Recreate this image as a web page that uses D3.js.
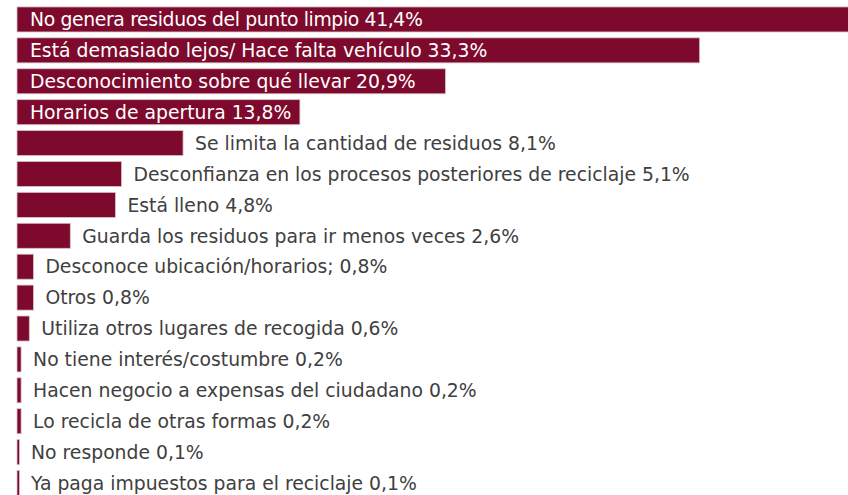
<!DOCTYPE html>
<html>
<head>
<meta charset="utf-8">
<script src="https://cdn.jsdelivr.net/npm/d3@7"></script>
<style>
  html, body { margin: 0; padding: 0; background: #ffffff; }
  svg { display: block; }
</style>
</head>
<body>
<svg id="chart" width="848" height="495"></svg>
<script>
const categories = [
  "No genera residuos del punto limpio",
  "Está demasiado lejos/ Hace falta vehículo",
  "Desconocimiento sobre qué llevar",
  "Horarios de apertura",
  "Se limita la cantidad de residuos",
  "Desconfianza en los procesos posteriores de reciclaje",
  "Está lleno",
  "Guarda los residuos para ir menos veces",
  "Desconoce ubicación/horarios;",
  "Otros",
  "Utiliza otros lugares de recogida",
  "No tiene interés/costumbre",
  "Hacen negocio a expensas del ciudadano",
  "Lo recicla de otras formas",
  "No responde",
  "Ya paga impuestos para el reciclaje"
];
const values = [41.4, 33.3, 20.9, 13.8, 8.1, 5.1, 4.8, 2.6, 0.8, 0.8, 0.6, 0.2, 0.2, 0.2, 0.1, 0.1];
const insideThreshold = 10;

const W = 848, H = 495;
const svg = d3.select("#chart");

const x = d3.scaleLinear().domain([0, 40]).range([17, 837]);
const y = d3.scaleBand()
  .domain(categories)
  .range([4, 498.5])
  .paddingInner(0.19)
  .paddingOuter(0.095);

const data = categories.map((c, i) => ({ cat: c, val: values[i] }));
const fmt = v => d3.format(".1f")(v).replace(".", ",") + "%";

svg.append("defs").append("clipPath").attr("id", "clip")
  .append("rect").attr("x", 0).attr("y", 0).attr("width", W).attr("height", H);

const g = svg.append("g").attr("clip-path", "url(#clip)");

g.selectAll("rect.bar").data(data).join("rect")
  .attr("class", "bar")
  .attr("x", x(0))
  .attr("y", d => y(d.cat))
  .attr("width", d => Math.max(2.5, x(d.val) - x(0)))
  .attr("height", y.bandwidth())
  .attr("fill", "#7d0a2d")
  .attr("stroke", "#d6c2c7")
  .attr("stroke-width", 0.8);

g.selectAll("text.lbl").data(data).join("text")
  .attr("class", "lbl")
  .attr("x", d => d.val >= insideThreshold ? x(0) + 13 : x(d.val) + 12)
  .attr("y", d => y(d.cat) + y.bandwidth() / 2)
  .attr("dy", "0.36em")
  .attr("font-family", "'DejaVu Sans', sans-serif")
  .attr("font-size", 18.8)
  .attr("letter-spacing", d => d.val > 40 ? -0.35 : 0)
  .attr("fill", d => d.val >= insideThreshold ? "#ffffff" : "#404040")
  .text(d => d.cat + " " + fmt(d.val));
</script>
</body>
</html>
